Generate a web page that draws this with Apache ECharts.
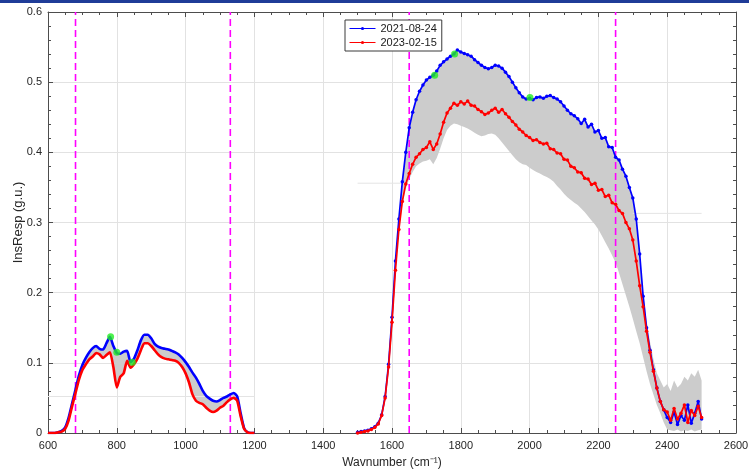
<!DOCTYPE html>
<html>
<head>
<meta charset="utf-8">
<script src="https://cdn.jsdelivr.net/npm/echarts@6/dist/echarts.min.js"></script>
<style>
  html, body { margin: 0; padding: 0; background: #ffffff; }
  #chart { width: 749px; height: 475px; }
</style>
</head>
<body>
<div id="chart"></div>
<script>
// ---- Low-wavenumber band (600–1200 cm-1) ----
const wn1 = [600,610,620,630,640,650,660,670,680,690,700,710,720,730,740,750,760,770,780,790,
  800,810,820,830,840,850,860,870,880,890,900,910,920,930,940,950,960,970,980,990,
  1000,1010,1020,1030,1040,1050,1060,1070,1080,1090,1100,1110,1120,1130,1140,1150,1160,1170,1180,1190,1200];
const resp2021Band1 = [0,0,0,0.001,0.003,0.008,0.022,0.042,0.062,0.082,
  0.097,0.107,0.115,0.121,0.124,0.120,0.119,0.128,0.137,0.124,
  0.114,0.113,0.116,0.117,0.101,0.106,0.118,0.132,0.140,0.140,
  0.135,0.127,0.123,0.121,0.120,0.119,0.117,0.115,0.112,0.107,
  0.101,0.094,0.086,0.079,0.070,0.060,0.053,0.049,0.046,0.045,
  0.047,0.050,0.052,0.055,0.057,0.052,0.028,0.007,0.001,0,0];
const resp2023Band1 = [0,0,0,0.001,0.002,0.006,0.018,0.038,0.057,0.076,
  0.090,0.098,0.105,0.109,0.114,0.112,0.107,0.111,0.115,0.094,
  0.065,0.080,0.085,0.103,0.093,0.098,0.106,0.118,0.128,0.128,
  0.124,0.118,0.112,0.108,0.106,0.105,0.104,0.103,0.100,0.094,
  0.085,0.072,0.055,0.046,0.043,0.041,0.036,0.032,0.030,0.032,
  0.036,0.039,0.044,0.048,0.050,0.046,0.024,0.006,0.001,0,0];

// ---- High-wavenumber band (1500–2500 cm-1) ----
const wn2 = [1500,1510,1520,1530,1540,1550,1560,1570,1580,1590,
  1600,1610,1620,1630,1640,1650,1660,1670,1680,1690,
  1700,1710,1720,1730,1740,1750,1760,1770,1780,1790,
  1800,1810,1820,1830,1840,1850,1860,1870,1880,1890,
  1900,1910,1920,1930,1940,1950,1960,1970,1980,1990,
  2000,2010,2020,2030,2040,2050,2060,2070,2080,2090,
  2100,2110,2120,2130,2140,2150,2160,2170,2180,2190,
  2200,2210,2220,2230,2240,2250,2260,2270,2280,2290,
  2300,2310,2320,2330,2340,2350,2360,2370,2380,2390,
  2400,2410,2420,2430,2440,2450,2460,2470,2480,2490,2500];
const resp2021Band2 = [0.001,0.002,0.003,0.004,0.006,0.009,0.014,0.026,0.052,0.098,
  0.165,0.245,0.305,0.358,0.400,0.435,0.457,0.475,0.487,0.496,
  0.503,0.507,0.510,0.516,0.524,0.529,0.533,0.537,0.540,0.546,
  0.543,0.541,0.539,0.537,0.532,0.528,0.524,0.521,0.519,0.521,
  0.524,0.523,0.520,0.514,0.508,0.500,0.492,0.485,0.479,0.476,
  0.477,0.475,0.478,0.479,0.477,0.480,0.481,0.478,0.476,0.472,
  0.466,0.460,0.455,0.452,0.448,0.441,0.447,0.436,0.440,0.429,
  0.431,0.420,0.421,0.408,0.407,0.393,0.389,0.376,0.366,0.350,
  0.335,0.305,0.255,0.195,0.150,0.118,0.090,0.064,0.045,0.033,
  0.022,0.015,0.030,0.012,0.025,0.018,0.040,0.014,0.028,0.045,0.020];
const resp2023Band2 = [0.000,0.001,0.002,0.003,0.005,0.008,0.013,0.025,0.050,0.094,
  0.158,0.232,0.290,0.330,0.355,0.370,0.383,0.393,0.398,0.404,
  0.407,0.415,0.404,0.412,0.426,0.443,0.456,0.463,0.470,0.467,
  0.472,0.469,0.473,0.467,0.466,0.461,0.458,0.454,0.456,0.460,
  0.463,0.457,0.461,0.455,0.450,0.444,0.439,0.433,0.429,0.424,
  0.421,0.417,0.418,0.414,0.412,0.413,0.405,0.404,0.399,0.398,
  0.390,0.389,0.380,0.378,0.372,0.371,0.363,0.362,0.354,0.356,
  0.346,0.347,0.337,0.339,0.328,0.326,0.317,0.313,0.300,0.291,
  0.275,0.245,0.210,0.180,0.145,0.115,0.088,0.064,0.045,0.033,
  0.030,0.018,0.035,0.020,0.028,0.040,0.015,0.032,0.025,0.038,0.022];
// lower edge of the spread of all individual responses
const spreadLowBand2 = [0.000,0.001,0.002,0.003,0.005,0.008,0.013,0.025,0.050,0.094,
  0.158,0.230,0.285,0.325,0.348,0.362,0.372,0.380,0.384,0.387,
  0.388,0.390,0.383,0.392,0.405,0.420,0.432,0.438,0.441,0.440,
  0.438,0.436,0.434,0.431,0.428,0.425,0.423,0.424,0.426,0.427,
  0.425,0.420,0.414,0.408,0.402,0.396,0.390,0.386,0.383,0.382,
  0.378,0.375,0.372,0.370,0.367,0.365,0.362,0.358,0.352,0.347,
  0.341,0.336,0.332,0.328,0.325,0.320,0.315,0.309,0.303,0.297,
  0.290,0.281,0.272,0.263,0.253,0.243,0.228,0.212,0.196,0.180,
  0.163,0.145,0.128,0.108,0.088,0.070,0.055,0.040,0.028,0.015,
  0.005,0.004,0.003,0.005,0.002,0.004,0.003,0.005,0.002,0.004,0.005];
// upper edge of the spread in the noisy tail (2330–2500 cm-1)
const spreadHighTailStart = 2330;
const spreadHighTail = [0.200,0.160,0.130,0.105,0.085,0.075,0.065,0.070,0.060,
  0.075,0.065,0.070,0.080,0.075,0.085,0.080,0.090,0.075];

// highlighted samples
const markWn   = [782, 800, 845, 1724, 1782, 2001];
const markResp = [0.137, 0.115, 0.101, 0.510, 0.540, 0.478];

// band limits (dashed)
const bandLimits = [680, 1130, 1650, 2250];

// faint reference levels
const levelFrom = [600, 1500, 2300];
const levelTo   = [1200, 1628, 2500];
const levelResp = [0.052, 0.356, 0.313];

const SERIES_A = '2021-08-24';
const SERIES_B = '2023-02-15';
const FONT = "'Liberation Sans', Arial, Helvetica, sans-serif";
const AXIS_COLOR = '#4d4d4d';
const GRID_COLOR = '#e2e2e2';

const pairs = (xs, ys) => xs.map((x, i) => [x, ys[i]]);

function spreadPolygon(wn, top, bottom) {
  return {
    type: 'custom',
    silent: true,
    clip: true,
    z: 1,
    data: [[wn[0], bottom[0]]],
    renderItem: function (params, api) {
      const pts = [];
      for (let i = 0; i < wn.length; i++) pts.push(api.coord([wn[i], top[i]]));
      for (let i = wn.length - 1; i >= 0; i--) pts.push(api.coord([wn[i], bottom[i]]));
      return { type: 'polygon', shape: { points: pts }, style: { fill: '#cccccc', stroke: null } };
    }
  };
}

// band 1 spread lies between the two dates
const top1 = resp2021Band1.map((v, i) => Math.max(v, resp2023Band1[i]));
const bot1 = resp2021Band1.map((v, i) => Math.min(v, resp2023Band1[i]));
// band 2 spread: from the lower edge up to the highest response
const top2 = wn2.map((w, i) => {
  let v = Math.max(resp2021Band2[i], resp2023Band2[i]);
  const k = Math.round((w - spreadHighTailStart) / 10);
  if (k >= 0 && k < spreadHighTail.length) v = Math.max(v, spreadHighTail[k]);
  return v;
});
const bot2 = wn2.map((w, i) => Math.min(spreadLowBand2[i], resp2023Band2[i], resp2021Band2[i]));

const series = [];
series.push(spreadPolygon(wn1, top1, bot1));
series.push(spreadPolygon(wn2, top2, bot2));

levelResp.forEach((lv, i) => {
  series.push({
    type: 'line', silent: true, z: 2, symbol: 'none',
    data: [[levelFrom[i], lv], [levelTo[i], lv]],
    lineStyle: { color: '#e4e4e4', width: 1 }
  });
});

bandLimits.forEach((b) => {
  series.push({
    type: 'line', silent: true, z: 3, symbol: 'none',
    data: [[b, 0], [b, 0.6]],
    lineStyle: { color: '#ff00ff', width: 1.6, type: [7, 4] }
  });
});

// band 2 first so that the legend takes its dotted line style
series.push({
  name: SERIES_A, type: 'line', z: 4,
  data: pairs(wn2, resp2021Band2),
  symbol: 'circle', symbolSize: 3.5, showSymbol: true,
  itemStyle: { color: '#0000ff' },
  lineStyle: { color: '#0000ff', width: 1.7 }
});
series.push({
  name: SERIES_B, type: 'line', z: 5,
  data: pairs(wn2, resp2023Band2),
  symbol: 'circle', symbolSize: 3.5, showSymbol: true,
  itemStyle: { color: '#ff0000' },
  lineStyle: { color: '#ff0000', width: 1.7 }
});
series.push({
  name: SERIES_A, type: 'line', z: 4,
  data: pairs(wn1, resp2021Band1),
  symbol: 'none', smooth: 0.2,
  itemStyle: { color: '#0000ff' },
  lineStyle: { color: '#0000ff', width: 2.6 }
});
series.push({
  name: SERIES_B, type: 'line', z: 5,
  data: pairs(wn1, resp2023Band1),
  symbol: 'none', smooth: 0.2,
  itemStyle: { color: '#ff0000' },
  lineStyle: { color: '#ff0000', width: 2.6 }
});
series.push({
  type: 'scatter', silent: true, z: 6,
  data: pairs(markWn, markResp),
  symbolSize: 7,
  itemStyle: { color: '#22ee22' }
});

const tickCommon = { inside: true, length: 5, lineStyle: { color: AXIS_COLOR, width: 1 } };
const minorCommon = { show: true, length: 3, lineStyle: { color: AXIS_COLOR, width: 1 } };
const plainNumber = (v) => String(+v.toFixed(4));

const option = {
  animation: false,
  backgroundColor: '#ffffff',
  textStyle: { fontFamily: FONT },
  grid: { left: 48, right: 13, top: 12, bottom: 42, containLabel: false, outerBoundsMode: 'none' },
  graphic: [{
    type: 'rect', left: 0, top: 0, silent: true,
    shape: { width: 749, height: 3 },
    style: { fill: '#1f3c98' }
  }],
  legend: {
    data: [SERIES_A, SERIES_B],
    orient: 'vertical',
    left: 345, top: 20,
    backgroundColor: '#ffffff',
    borderColor: '#3a3a3a', borderWidth: 1,
    padding: [3, 5, 3, 4],
    itemGap: 3, itemWidth: 26, itemHeight: 4,
    lineStyle: { width: 1 },
    textStyle: { fontSize: 11, color: '#1a1a1a', fontFamily: FONT }
  },
  xAxis: [{
    type: 'value', min: 600, max: 2600, interval: 200, position: 'bottom',
    name: 'Wavnumber (cm⁻¹)', nameLocation: 'middle', nameGap: 24, nameMoveOverlap: false,
    nameTextStyle: { fontSize: 12, color: '#262626', fontFamily: FONT },
    axisLine: { show: true, onZero: false, lineStyle: { color: AXIS_COLOR } },
    axisTick: tickCommon,
    minorTick: Object.assign({ splitNumber: 4 }, minorCommon),
    splitLine: { show: true, lineStyle: { color: GRID_COLOR } },
    axisLabel: { fontSize: 11, color: '#262626', margin: 7, formatter: plainNumber }
  }, {
    type: 'value', min: 600, max: 2600, interval: 200, position: 'top',
    axisLine: { show: true, onZero: false, lineStyle: { color: AXIS_COLOR } },
    axisTick: tickCommon,
    minorTick: Object.assign({ splitNumber: 4 }, minorCommon),
    splitLine: { show: false },
    axisLabel: { show: false }
  }],
  yAxis: [{
    type: 'value', min: 0, max: 0.6, interval: 0.1, position: 'left',
    name: 'InsResp (g.u.)', nameLocation: 'middle', nameGap: 23, nameMoveOverlap: false,
    nameTextStyle: { fontSize: 13, color: '#262626', fontFamily: FONT },
    axisLine: { show: true, onZero: false, lineStyle: { color: AXIS_COLOR } },
    axisTick: tickCommon,
    minorTick: Object.assign({ splitNumber: 5 }, minorCommon),
    splitLine: { show: true, lineStyle: { color: GRID_COLOR } },
    axisLabel: { fontSize: 11, color: '#262626', margin: 6, formatter: plainNumber }
  }, {
    type: 'value', min: 0, max: 0.6, interval: 0.1, position: 'right',
    axisLine: { show: true, onZero: false, lineStyle: { color: AXIS_COLOR } },
    axisTick: tickCommon,
    minorTick: Object.assign({ splitNumber: 5 }, minorCommon),
    splitLine: { show: false },
    axisLabel: { show: false }
  }],
  series: series
};

const chart = echarts.init(document.getElementById('chart'), null, { renderer: 'canvas' });
chart.setOption(option);
</script>
</body>
</html>
